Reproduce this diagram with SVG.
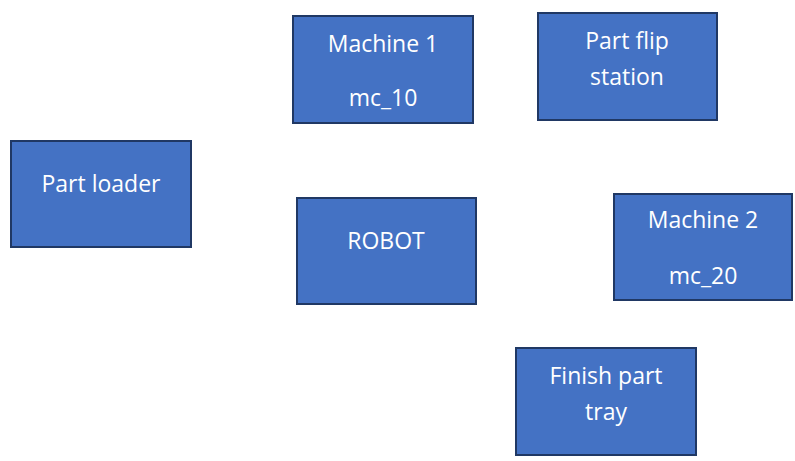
<svg xmlns="http://www.w3.org/2000/svg" width="795" height="461" viewBox="0 0 795 461">
<style>
.box{fill:#4472C4;stroke:#203864;stroke-width:2}
.t{font-family:"Open Sans","Liberation Sans",sans-serif;font-size:23px;fill:#FFFFFF;text-anchor:middle}
</style>
<rect width="795" height="461" fill="#FFFFFF"/>
<g id="machine1"><rect class="box" x="293" y="16" width="180" height="107"/><text class="t" x="383" y="52">Machine 1</text><text class="t" x="383" y="106">mc_10</text></g>
<g id="partflip"><rect class="box" x="538" y="13" width="179" height="107"/><text class="t" x="627" y="49">Part flip</text><text class="t" x="627" y="85">station</text></g>
<g id="partloader"><rect class="box" x="11" y="141" width="180" height="106"/><text class="t" x="101" y="192">Part loader</text></g>
<g id="robot"><rect class="box" x="297" y="198" width="179" height="106"/><text class="t" x="386" y="249">ROBOT</text></g>
<g id="machine2"><rect class="box" x="614" y="194" width="178" height="106"/><text class="t" x="703" y="228">Machine 2</text><text class="t" x="703" y="284">mc_20</text></g>
<g id="finishtray"><rect class="box" x="516" y="348" width="180" height="107"/><text class="t" x="606" y="384">Finish part</text><text class="t" x="606" y="420">tray</text></g>
<g id="connectors"></g>
</svg>
